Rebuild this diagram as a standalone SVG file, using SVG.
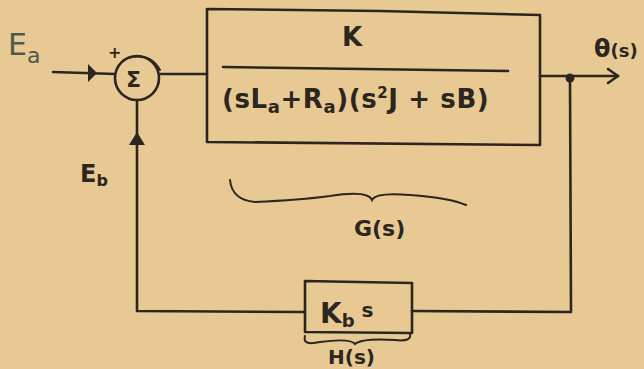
<svg xmlns="http://www.w3.org/2000/svg" width="644" height="369" viewBox="0 0 644 369">
<style>
.ln{fill:none;stroke:#2b2620;stroke-width:2.6;stroke-linecap:round;stroke-linejoin:round}
.thin{fill:none;stroke:#2b2620;stroke-width:2;stroke-linecap:round}
.t{font-family:"DejaVu Sans","Liberation Sans",sans-serif;fill:#2b2620;font-weight:bold}
.g{fill:#4f5a4c;font-weight:normal}
</style>
<rect width="644" height="369" fill="#e8c994"/>
<g id="connectors">
<path class="ln" d="M53,72 L115,74"/>
<path d="M88,64 L97,73 L88,82 Z" fill="#2b2620"/>
<path class="ln" d="M160,74 L207,74"/>
<path class="ln" d="M540,76 L618,76"/>
<path class="ln" d="M608,69 L618,76 L608,83"/>
<circle cx="570" cy="78" r="4.5" fill="#2b2620"/>
<path class="ln" d="M570,80 L571,312 L412,311"/>
<path class="ln" d="M305,312 L137,311 L137,100"/>
<path d="M129,145 L137,132 L145,145 Z" fill="#2b2620"/>
</g>
<g id="sum">
<circle class="ln" cx="137" cy="78" r="22"/>
<path class="thin" d="M128,58 Q150,52 160,70"/>
<text class="t" x="126" y="87" font-size="22">Σ</text>
<text class="t" x="108" y="58" font-size="16">+</text>
</g>
<g id="G">
<path class="ln" d="M207,9 L380,11 L540,15 L540,145 L207,142 Z"/>
<path class="ln" d="M223,67 L508,71"/>
<text class="t" x="342" y="46" font-size="26">K</text>
<text class="t" x="222" y="108" font-size="26" letter-spacing="0.6">(sL<tspan font-size="18" dy="5">a</tspan><tspan dy="-5">+R</tspan><tspan font-size="18" dy="5">a</tspan><tspan dy="-5">)(s</tspan><tspan font-size="15" dy="-10">2</tspan><tspan dy="10">J + sB)</tspan></text>
<path class="thin" d="M230,180 Q232,200 255,202 Q300,200 330,196 Q368,190 372,200 Q376,192 410,195 Q450,198 466,205"/>
<text class="t" x="354" y="236" font-size="22">G(s)</text>
</g>
<g id="H">
<path class="ln" d="M305,281 L412,283 L412,333 L305,332 Z"/>
<text class="t" x="320" y="323" font-size="28">K<tspan font-size="18" dy="4">b</tspan><tspan font-size="20" dy="-10"> s</tspan></text>
<path class="thin" d="M305,336 Q302,346 320,342 Q350,338 355,344 Q362,338 395,340 Q412,342 410,334"/>
<text class="t" x="328" y="364" font-size="20">H(s)</text>
</g>
<g id="labels">
<text class="t g" x="8" y="55" font-size="30">E<tspan font-size="22" dy="8">a</tspan></text>
<text class="t" x="80" y="182" font-size="24">E<tspan font-size="16" dy="4">b</tspan></text>
<text class="t" x="594" y="57" font-size="24">θ<tspan font-size="18">(s)</tspan></text>
</g>
</svg>
